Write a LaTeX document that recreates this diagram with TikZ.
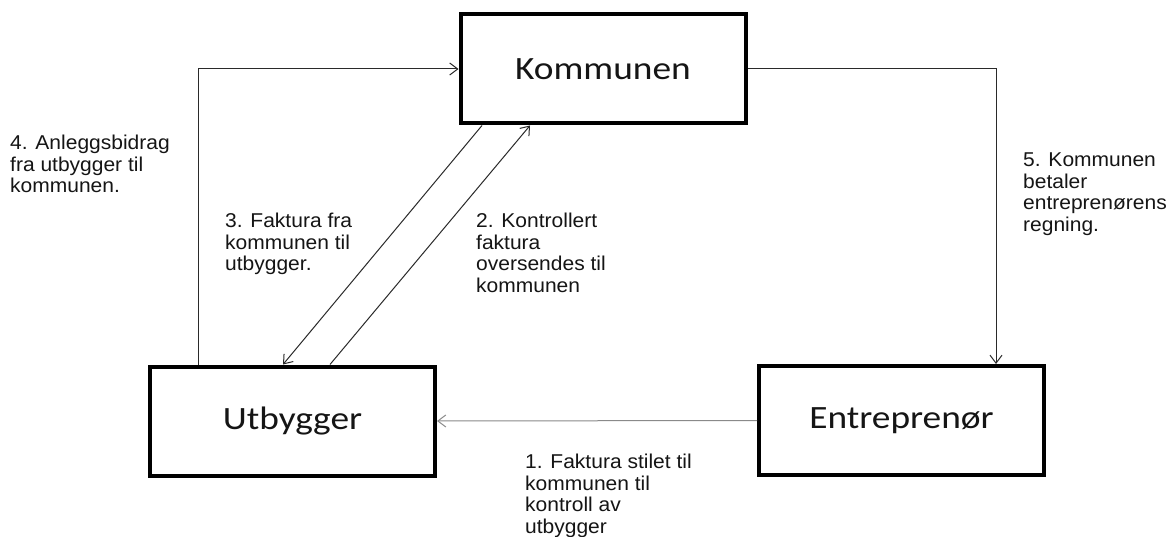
\documentclass[tikz,border=0pt]{standalone}
\usepackage{fontspec}
\setmainfont[FakeStretch=1.05]{Liberation Sans}
\newfontfamily\boxfont[FakeStretch=1.15]{Carlito}
\usetikzlibrary{arrows.meta}
\definecolor{ink}{HTML}{151515}
\definecolor{wire}{HTML}{2A2A2A}
\definecolor{greywire}{HTML}{8A8A8A}
\begin{document}
\begin{tikzpicture}[x=1pt,y=-1pt,
  box/.style={draw=black, line width=4pt, minimum width=285pt, minimum height=109pt,
    inner sep=0pt, font=\boxfont\fontsize{32.5}{34}\selectfont, text=ink},
  arr/.style={draw=wire, line width=1pt, -{Straight Barb[length=8pt,width=12pt,line width=1pt]}},
  lbl/.style={anchor=north west, inner sep=0pt, align=left, text=ink,
    font=\fontsize{20}{21.5}\selectfont}]
\useasboundingbox[fill=white] (0,0) rectangle (1170,537);

\node[box] (k) at (603,69) {Kommunen};
\node[box] (u) at (292.5,421) {Utbygger};
\node[box] (e) at (901.5,420.5) {Entreprenør};

\coordinate (c4) at (198,0);
\coordinate (c5) at (996,0);
\coordinate (c3a) at (482,0);
\coordinate (c3b) at (283,0);
\coordinate (c2a) at (330,0);
\coordinate (c2b) at (530,0);

% 4
\draw[arr] (u.north -| c4) |- (k.west);
% 5
\draw[arr] (k.east) -| (e.north -| c5);
% 1
\draw[arr, draw=greywire] (e.west) -- (u.east);
% 3
\draw[arr] (k.south -| c3a) -- (u.north -| c3b);
% 2
\draw[arr] (u.north -| c2a) -- (k.south -| c2b);

\node[lbl] (l4) at (10,135) {4. Anleggsbidrag\\fra utbygger til\\kommunen.};
\node[lbl] (l3) at (225,213) {3. Faktura fra\\kommunen til\\utbygger.};
\node[lbl] (l2) at (476,213) {2. Kontrollert\\faktura\\oversendes til\\kommunen};
\node[lbl] (l5) at (1023,153) {5. Kommunen\\betaler\\entreprenørens\\regning.};
\node[lbl] (l1) at (525,454) {1. Faktura stilet til\\kommunen til\\kontroll av\\utbygger};
\end{tikzpicture}
\end{document}
